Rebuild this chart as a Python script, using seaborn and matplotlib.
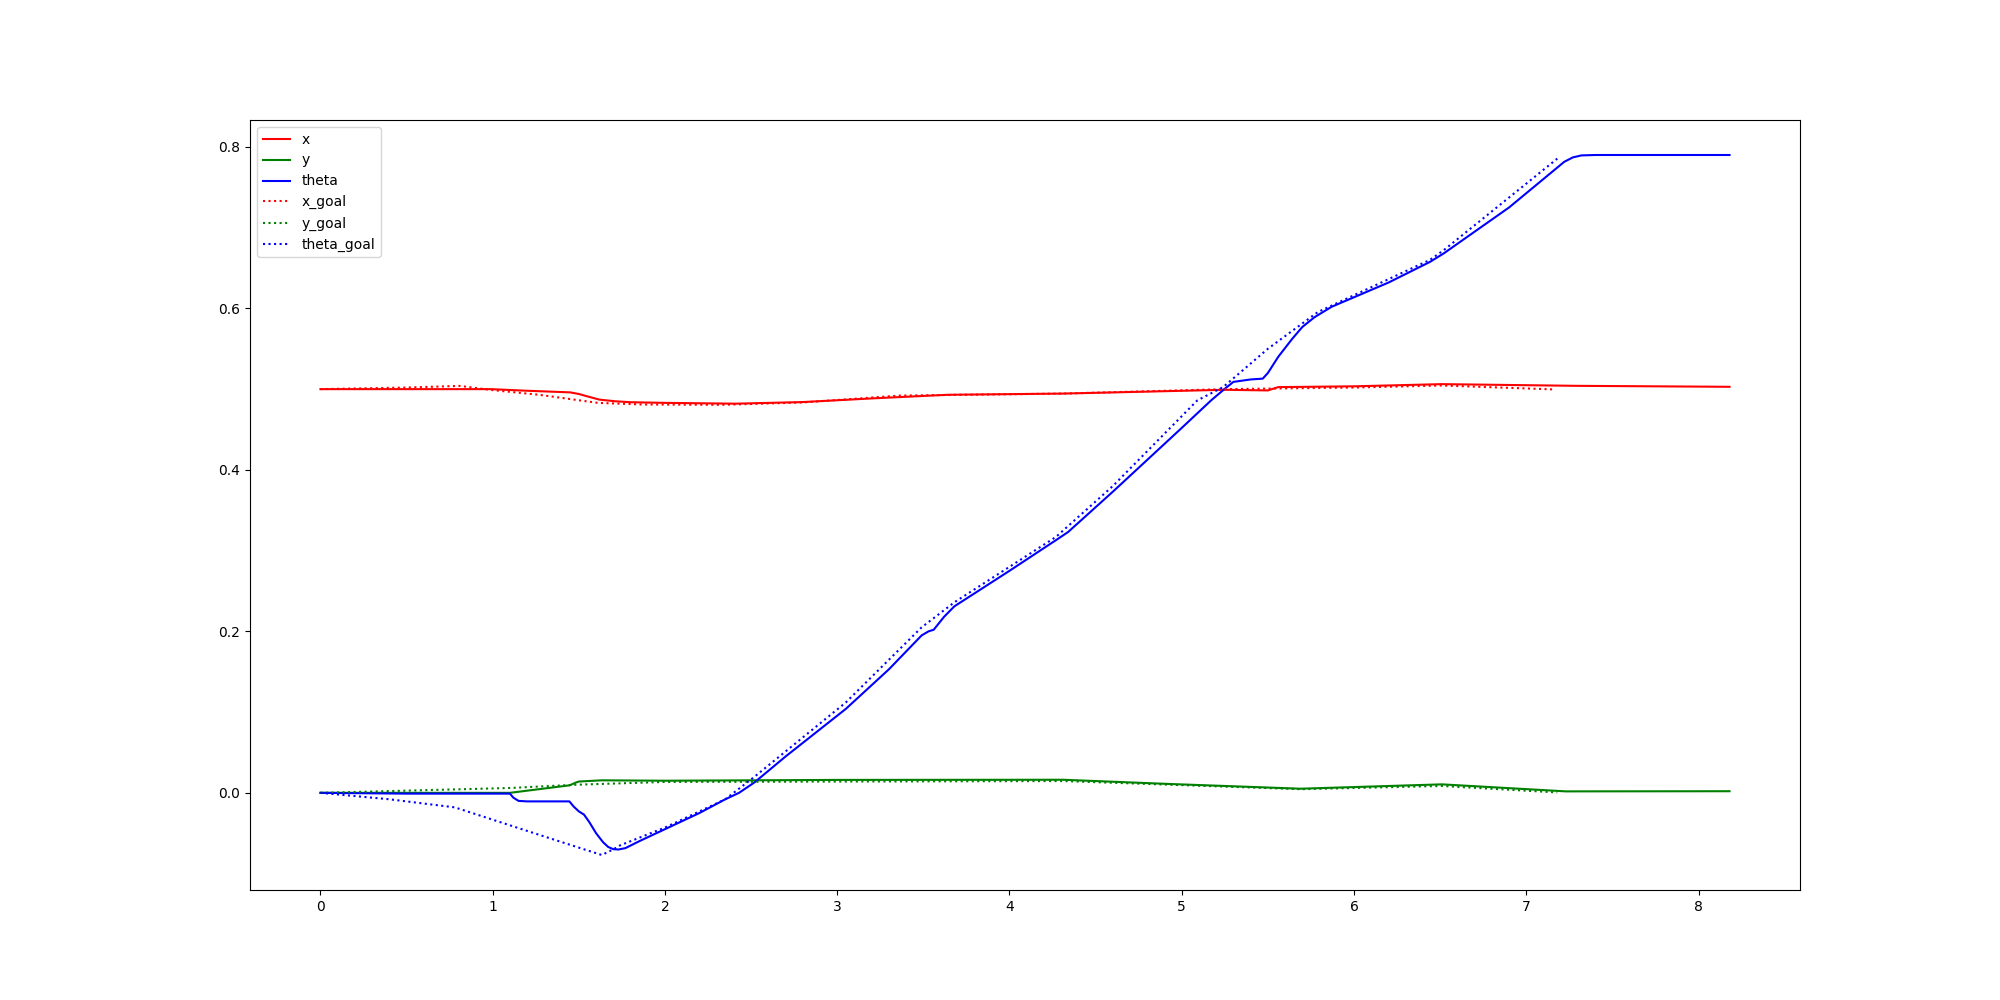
import matplotlib
matplotlib.use("Agg")
import matplotlib.pyplot as plt
import seaborn as sns
import pandas as pd

# ---- data ----
x_t = [0.00, 0.99, 1.20, 1.45, 1.50, 1.55, 1.62, 1.71, 1.80, 2.00, 2.41, 2.80, 3.21, 3.64, 4.31, 5.25, 5.50, 5.56, 6.00, 6.51, 7.29, 8.18]
x_v = [0.500, 0.500, 0.498, 0.496, 0.494, 0.491, 0.487, 0.485, 0.4838, 0.483, 0.482, 0.484, 0.4886, 0.493, 0.4945, 0.4992, 0.4984, 0.5025, 0.5035, 0.5062, 0.5041, 0.5029]

y_t = [0.00, 1.10, 1.447, 1.48, 1.50, 1.633, 2.00, 3.00, 4.31, 4.936, 5.69, 6.51, 7.23, 8.18]
y_v = [0.000, 0.000, 0.0093, 0.0125, 0.0140, 0.0155, 0.0150, 0.0160, 0.0162, 0.0109, 0.0051, 0.0105, 0.0018, 0.0020]

theta_t = [0.00, 0.50, 1.10, 1.12, 1.15, 1.20, 1.445, 1.47, 1.50, 1.53, 1.56, 1.60, 1.64, 1.67, 1.70, 1.73, 1.77,
           1.85, 2.00, 2.20, 2.35, 2.43, 2.52, 2.70, 3.05, 3.30, 3.49, 3.53, 3.56, 3.62, 3.68, 3.76,
           4.00, 4.27, 4.34, 4.60, 5.00, 5.17, 5.25, 5.30, 5.40, 5.47, 5.50, 5.56, 5.64, 5.70, 5.77, 5.87,
           6.20, 6.44, 6.52, 6.90, 7.22, 7.27, 7.32, 7.40, 8.18]
theta_v = [0.000, -0.001, -0.001, -0.006, -0.010, -0.0106, -0.0106, -0.017, -0.023, -0.027, -0.036, -0.050, -0.061, -0.067, -0.0698, -0.0702, -0.0685,
           -0.060, -0.045, -0.025, -0.008, 0.000, 0.013, 0.045, 0.104, 0.153, 0.195, 0.200, 0.202, 0.218, 0.231, 0.242,
           0.275, 0.313, 0.323, 0.373, 0.452, 0.486, 0.5005, 0.509, 0.512, 0.513, 0.520, 0.540, 0.562, 0.577, 0.589, 0.602,
           0.632, 0.6575, 0.668, 0.725, 0.7815, 0.787, 0.7895, 0.790, 0.790]

xg_t = [0.00, 0.50, 0.81, 0.99, 1.27, 1.61, 1.87, 2.33, 2.80, 3.36, 4.31, 5.25, 6.00, 6.51, 7.168]
xg_v = [0.500, 0.502, 0.504, 0.499, 0.493, 0.483, 0.481, 0.4806, 0.4835, 0.492, 0.4945, 0.500, 0.502, 0.5045, 0.4996]

yg_t = [0.00, 1.10, 1.48, 2.00, 4.31, 5.69, 6.51, 7.18]
yg_v = [0.000, 0.006, 0.010, 0.0135, 0.0146, 0.0045, 0.0085, 0.0005]

thg_t = [0.00, 0.40, 0.78, 1.14, 1.40, 1.633, 1.70, 1.74, 2.00, 2.35, 2.52, 3.05, 3.49, 3.68, 4.27,
         4.60, 5.09, 5.24, 5.50, 5.79, 6.44, 6.52, 7.18]
thg_v = [0.000, -0.008, -0.018, -0.043, -0.061, -0.077, -0.070, -0.065, -0.043, -0.008, 0.020, 0.112, 0.205, 0.236, 0.317,
         0.380, 0.486, 0.5025, 0.550, 0.5955, 0.660, 0.672, 0.7855]

series = [
    ("x", x_t, x_v, "red", "-"),
    ("y", y_t, y_v, "green", "-"),
    ("theta", theta_t, theta_v, "blue", "-"),
    ("x_goal", xg_t, xg_v, "red", ":"),
    ("y_goal", yg_t, yg_v, "green", ":"),
    ("theta_goal", thg_t, thg_v, "blue", ":"),
]

fig, ax = plt.subplots(figsize=(20, 10), dpi=100)
for name, t, v, c, ls in series:
    df = pd.DataFrame({"t": t, "v": v})
    sns.lineplot(data=df, x="t", y="v", color=c, linestyle=ls, linewidth=1.5,
                 label=name, ax=ax, estimator=None, sort=False)

ax.set_xlabel("")
ax.set_ylabel("")
ax.legend(loc="upper left")
fig.savefig("out.png", dpi=100)
